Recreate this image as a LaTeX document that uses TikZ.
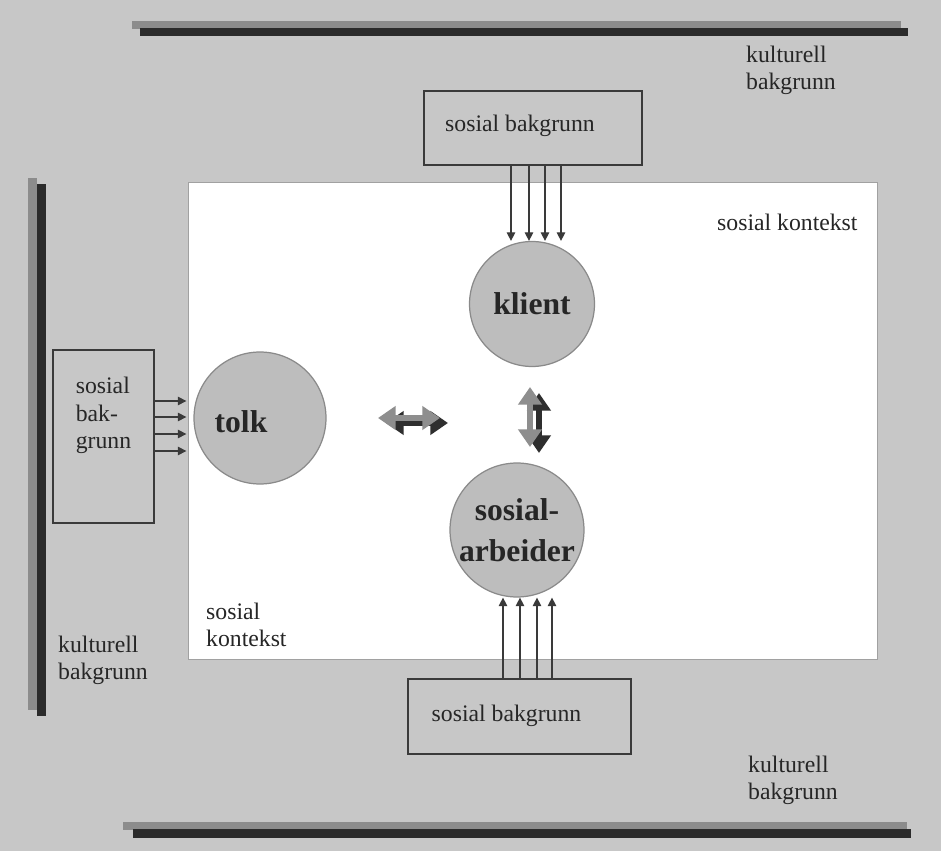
\documentclass[tikz,border=0pt]{standalone}
\usepackage{fontspec}
\setmainfont{Liberation Serif}
\usetikzlibrary{arrows.meta}

\definecolor{bggray}{HTML}{C7C7C7}
\definecolor{partyfill}{HTML}{BDBDBD}
\definecolor{ringgray}{HTML}{8A8A8A}
\definecolor{boxline}{HTML}{3A3A3A}
\definecolor{txtgray}{HTML}{262626}
\definecolor{barlight}{HTML}{8C8C8C}
\definecolor{bardark}{HTML}{2B2B2B}
\definecolor{talklight}{HTML}{8E8E8E}
\definecolor{talkdark}{HTML}{2E2E2E}

\begin{document}
\begin{tikzpicture}[x=0.02cm, y=0.02cm,
  every node/.style={font=\fontsize{13.5}{15.5}\selectfont, text=txtgray},
  box/.style={draw=boxline, line width=1.1pt, fill=bggray, inner sep=0pt},
  party/.style={circle, draw=ringgray, line width=0.7pt, fill=partyfill, inner sep=0pt,
    align=center, font=\fontsize{18}{22.5}\selectfont\bfseries},
  feed/.style={draw=boxline, line width=0.6pt, -{Triangle[length=4.8pt,width=4.8pt]}},
  talk/.style={line width=3.6pt, {Triangle[length=10pt,width=13pt]}-{Triangle[length=10pt,width=13pt]}}]
\useasboundingbox (0,0) rectangle (941,-851);
\fill [bggray] (0,0) rectangle (941,-851);
% cultural background bars
\fill [barlight] (132,-21) rectangle (901,-29);
\fill [bardark] (140,-28) rectangle (908,-36);
\fill [barlight] (28,-178) rectangle (37,-710);
\fill [bardark] (37,-184) rectangle (46,-716);
\fill [barlight] (123,-822) rectangle (907,-830);
\fill [bardark] (133,-829) rectangle (911,-838);
% social context
\draw [fill=white, draw=ringgray!80, line width=0.5pt] (188,-182) rectangle (877,-659);
% social backgrounds
\node [box, minimum width=4.36cm, minimum height=1.48cm,
  label={[shift={(-13,2)}]center:sosial bakgrunn}] (sbtop) at (533,-128) {};
\node [box, minimum width=2.02cm, minimum height=3.46cm,
  label={[shift={(0,21)}, align=left]center:sosial\\bak-\\grunn}] (sbleft) at (103.5,-436.5) {};
\node [box, minimum width=4.46cm, minimum height=1.5cm,
  label={[shift={(-13,1)}]center:sosial bakgrunn}] (sbbot) at (519.5,-716.5) {};
% parties
\node [party, minimum size=2.5cm] (klient) at (532,-304) {klient};
\node [party, minimum size=2.64cm, label={[shift={(-19,-4)}, font=\fontsize{18}{22.5}\selectfont\bfseries]center:tolk}] (tolk) at (260,-418) {};
\node [party, minimum size=2.68cm] (sarb) at (517,-530) {sosial-\\[1pt]arbeider};
% influences
\foreach \x in {511,529,545,561}
  \draw [feed] (sbtop.south -| \x,0) -- (klient.north -| \x,0);
\foreach \x in {503,520,537,552}
  \draw [feed] (sbbot.north -| \x,0) -- (sarb.south -| \x,0);
\foreach \y in {401,417,434,451}
  \draw [feed, shorten >=4pt] (sbleft.east |- 0,-\y) -- (tolk.west |- 0,-\y);
% communication
\coordinate (hl1) at (378,-418);
\coordinate (hl2) at (440,-418);
\coordinate (hd1) at (386,-423);
\coordinate (hd2) at (448,-423);
\coordinate (vl1) at (530,-387);
\coordinate (vl2) at (530,-447);
\coordinate (vd1) at (539,-393);
\coordinate (vd2) at (539,-453);
\draw [talk, talkdark] (hd1) -- (hd2);
\draw [talk, talklight] (hl1) -- (hl2);
\draw [talk, talkdark] (vd1) -- (vd2);
\draw [talk, talklight] (vl1) -- (vl2);
% labels
\node [anchor=west, align=left] (kbtop) at (740,-70) {kulturell\\bakgrunn};
\node [anchor=west] (sktop) at (711,-222) {sosial kontekst};
\node [anchor=west, align=left] (skbot) at (200,-625) {sosial\\kontekst};
\node [anchor=west, align=left] (kbleft) at (52,-660) {kulturell\\bakgrunn};
\node [anchor=west, align=left] (kbbot) at (742,-780) {kulturell\\bakgrunn};
\end{tikzpicture}
\end{document}
